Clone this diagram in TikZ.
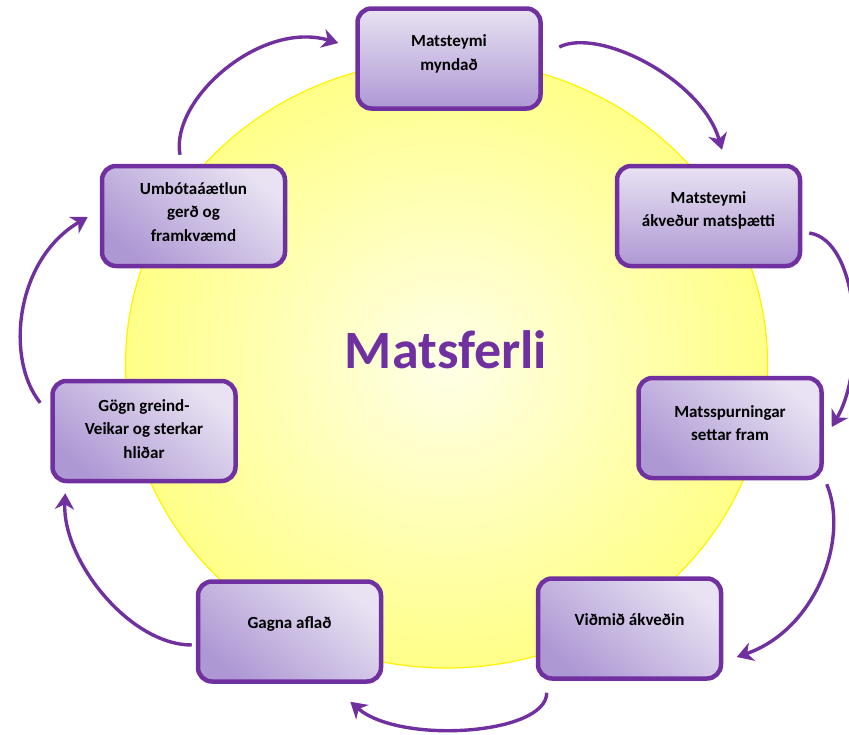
\documentclass[tikz,border=0pt]{standalone}
\usepackage{fontspec}
\setsansfont{Carlito}
\usetikzlibrary{arrows.meta, positioning}
\definecolor{matspurple}{HTML}{7030A0}
\definecolor{boxlight}{HTML}{E8E2F2}
\definecolor{boxdark}{HTML}{AE98D4}
\definecolor{sunedge}{HTML}{FFFF88}
\definecolor{suncore}{HTML}{FFFFE8}

\begin{document}
\begin{tikzpicture}[x=1pt, y=-1pt]
        \tikzstyle{stepbox}=[draw=matspurple, line width=4.5pt, rectangle, rounded corners=14pt, minimum width=183pt, minimum height=100pt, align=center, top color=boxlight, bottom color=boxdark, shading angle=-40, font=\sffamily\bfseries\fontsize{17}{23.5}\selectfont];
        \tikzstyle{flow}=[draw=matspurple, line width=3.4pt, -{Stealth[length=16pt, width=19pt, inset=5pt]}];
        \useasboundingbox (0,0) rectangle (849,734);

        \path[draw=yellow, line width=1.2pt, inner color=suncore, outer color=sunedge] (446.5,364) ellipse [x radius=321pt, y radius=304pt];
        \node[font=\sffamily\bfseries\fontsize{54}{60}\selectfont, text=matspurple] (title) at (446,350) {Matsferli};

        \node[stepbox, shading angle=0, text depth=12pt] (myndad) at (449,58.5) {Matsteymi\\myndað};
        \node[stepbox, shading angle=0, text depth=14pt] (thaettir) at (708.5,216) {Matsteymi\\ákveður matsþætti};
        \node[stepbox, text depth=10pt] (spurningar) at (730,428) {Matsspurningar\\settar fram};
        \node[stepbox, text depth=18pt] (vidmid) at (629.5,628.5) {Viðmið ákveðin};
        \node[stepbox, text depth=18pt] (gogn) at (289.5,631.5) {Gagna aflað};
        \node[stepbox, text depth=4pt] (greining) at (144,431) {Gögn greind-\\Veikar og sterkar\\hliðar};
        \node[stepbox, text depth=8pt] (umbaetur) at (193.5,216) {Umbótaáætlun\\gerð og\\framkvæmd};

        \draw[flow] ([shift={(16.5,-11.5)}]myndad.east) .. controls +(40,-20) and +(-20,-70) .. ([shift={(13.5,-14)}]thaettir.north);
        \draw[flow] ([shift={(7,17)}]thaettir.east) .. controls +(50,7) and +(35,-60) .. ([shift={(8,-1)}]spurningar.east);
        \draw[flow] ([shift={(3,4)}]spurningar.south east) .. controls +(23,56) and +(78,-27) .. ([shift={(13.5,28.5)}]vidmid.east);
        \draw[flow] ([shift={(11,12)}]vidmid.south west) .. controls +(0,42) and +(50,43) .. ([shift={(-33,18)}]gogn.south east);
        \draw[flow] ([shift={(-4,13.5)}]gogn.west) .. controls +(-62,0) and +(-3,67) .. ([shift={(15,10)}]greining.south west);
        \draw[flow] ([shift={(-10,24)}]greining.north west) .. controls +(-35,-43) and +(-73,43) .. ([shift={(-12,1)}]umbaetur.west);
        \draw[flow] ([shift={(-13.5,-9)}]umbaetur.north) .. controls +(-10,-55) and +(-78,-23) .. ([shift={(-17,-15.5)}]myndad.west);
\end{tikzpicture}
\end{document}
